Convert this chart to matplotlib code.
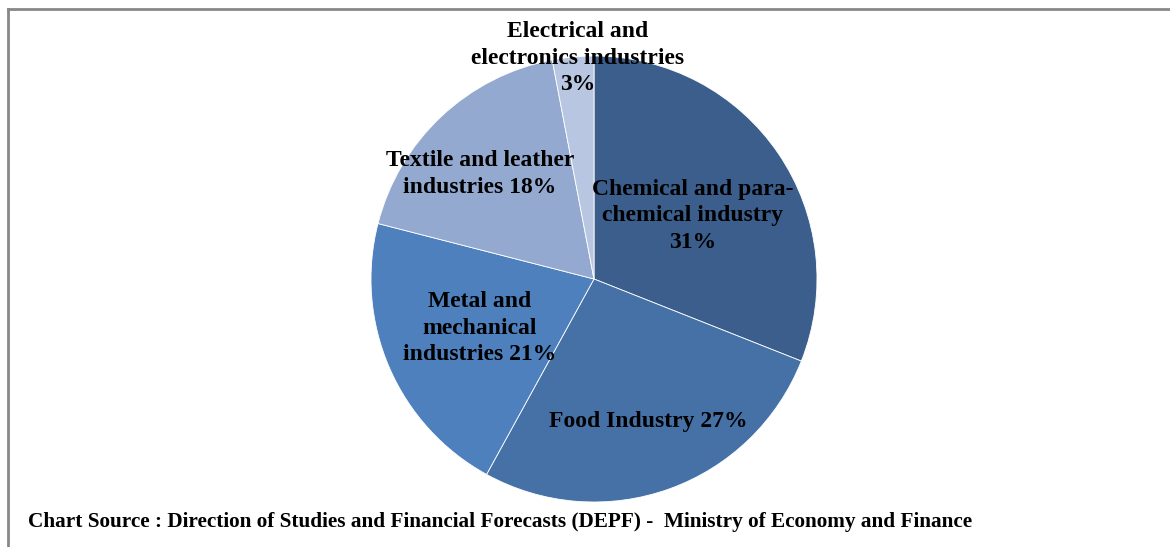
import matplotlib.pyplot as plt
from matplotlib.lines import Line2D

# data
sectors = ['Chemical and para-\nchemical industry\n31%', 'Food Industry 27%',
           'Metal and\nmechanical\nindustries 21%', 'Textile and leather\nindustries 18%',
           'Electrical and\nelectronics industries\n3%']
shares = [31, 27, 21, 18, 3]
colors = ['#3B5E8C', '#4571A7', '#4E80BD', '#93A9D0', '#B9C6E1']
# label centres in pie units (radius = 1)
label_pos = [(0.444, 0.283), (0.242, -0.637), (-0.511, -0.221), (-0.511, 0.47), (-0.072, 0.99)]

W, H = 1170, 547
fig = plt.figure(figsize=(W / 100, H / 100), dpi=100)
cx, cy, r = 594, 279, 223
ax = fig.add_axes([(cx - r) / W, (H - cy - r) / H, 2 * r / W, 2 * r / H])

ax.pie(shares, colors=colors, startangle=90, counterclock=False,
       wedgeprops=dict(edgecolor='white', linewidth=0.6))
ax.set_xlim(-1, 1)
ax.set_ylim(-1, 1)
ax.set_aspect('equal')
ax.axis('off')

for lab, (x, y) in zip(sectors, label_pos):
    ax.text(x, y, lab, ha='center', va='center', fontsize=17, fontweight='bold',
            family='Liberation Serif', linespacing=1.35, clip_on=False)

fig.text(28 / W, 1 - 522 / H,
         'Chart Source : Direction of Studies and Financial Forecasts (DEPF) -  Ministry of Economy and Finance',
         ha='left', va='center', fontsize=15.3, fontweight='bold', family='Liberation Serif')

# chart frame (only top and left edges visible)
fig.add_artist(Line2D([8 / W, 1], [1 - 9 / H, 1 - 9 / H], color='#888888', lw=2, transform=fig.transFigure))
fig.add_artist(Line2D([8 / W, 8 / W], [0, 1 - 9 / H], color='#888888', lw=2, transform=fig.transFigure))

fig.savefig('out.png', dpi=100)
